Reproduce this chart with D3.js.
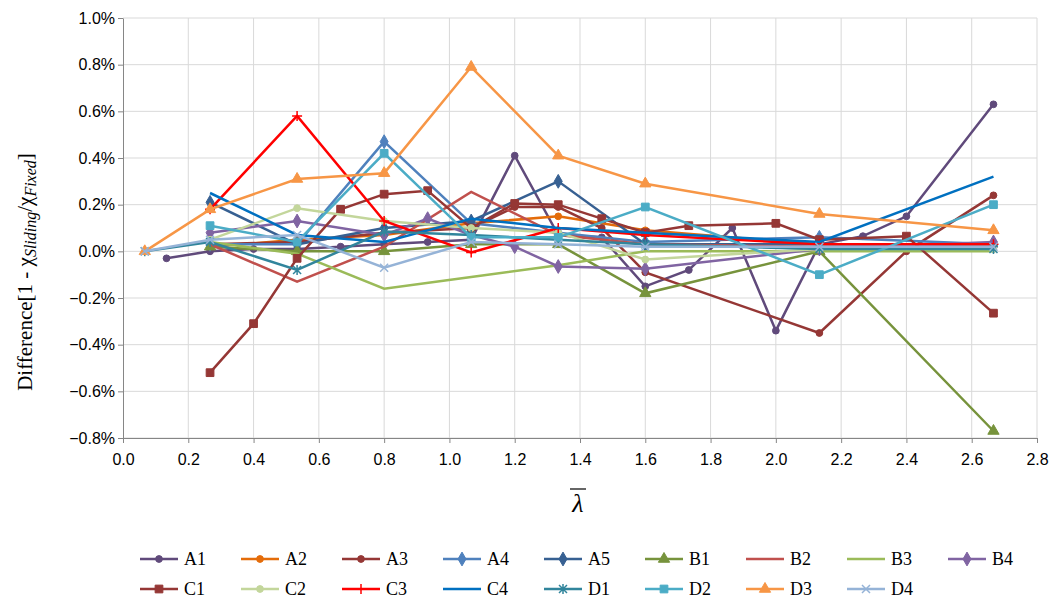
<!DOCTYPE html><html><head><meta charset="utf-8"><script src="https://cdn.jsdelivr.net/npm/d3@7"></script>
<style>body{margin:0;background:#fff}</style></head><body><svg id="c" width="1055" height="603"></svg>
<script>
const X=i=>i/7.5;
const names=["A1","A2","A3","A4","A5","B1","B2","B3","B4","C1","C2","C3","C4","D1","D2","D3","D4"];
const colors=["#604A7B","#E46C0A","#953735","#4F81BD","#376092","#77933C","#C0504D","#9BBB59","#8064A2","#953735","#C3D69B","#FF0000","#0070C0","#31859C","#4BACC6","#F79646","#95B3D7"];
const markers=["circle","circle","circle","diamond","diamond","triangle","none","none","diamond","square","circle","plus","none","star","square","triangle","x"];
const A1=[[1,-0.03],[2,0.0],[3,0.01],[4,0.01],[5,0.02],[6,0.03],[7,0.04],[8,0.05],[9,0.41],[10,0.07],[11,0.06],[12,-0.15],[13,-0.08],[14,0.10],[15,-0.34],[16,0.03],[17,0.065],[18,0.15],[20,0.63]];
const A2=[[2,0.02],[4,0.05],[6,0.07],[8,0.12],[10,0.15],[12,0.09],[16,0.03],[20,0.02]];
const A3=[[2,0.03],[4,0.04],[6,0.08],[8,0.10],[9,0.19],[10,0.19],[11,0.10],[12,-0.09],[16,-0.35],[18,0.0],[20,0.24]];
const A4=[[2,0.03],[4,0.03],[6,0.47],[8,0.12],[10,0.08],[12,0.04],[16,0.06],[20,0.03]];
const A5=[[2,0.21],[4,0.03],[6,0.10],[8,0.13],[10,0.30],[12,0.03],[16,0.03],[20,0.02]];
const B1=[[2,0.02],[4,0.0],[6,0.0],[8,0.03],[10,0.03],[12,-0.18],[16,0.0],[20,-0.77]];
const B2=[[2,0.03],[4,-0.13],[6,0.02],[8,0.255],[10,0.07],[12,0.03],[16,0.02],[20,0.02]];
const B3=[[2,0.04],[4,-0.01],[6,-0.16],[8,-0.11],[10,-0.06],[12,0.0],[16,0.0],[20,0.0]];
const B4=[[2,0.08],[4,0.13],[6,0.07],[7,0.14],[8,0.07],[9,0.02],[10,-0.065],[12,-0.075],[16,0.01],[20,0.04]];
const C1=[[2,-0.52],[3,-0.31],[4,-0.03],[5,0.18],[6,0.245],[7,0.26],[8,0.10],[9,0.205],[10,0.20],[11,0.14],[12,0.08],[13,0.11],[15,0.12],[16,0.05],[18,0.065],[20,-0.265]];
const C2=[[2,0.05],[4,0.185],[6,0.13],[8,0.10],[10,0.08],[12,-0.035],[16,0.01],[20,0.01]];
const C3=[[2,0.18],[4,0.58],[6,0.13],[8,-0.005],[10,0.10],[12,0.07],[16,0.03],[20,0.03]];
const C4=[[2,0.25],[4,0.07],[6,0.04],[8,0.14],[10,0.10],[12,0.08],[16,0.04],[20,0.32]];
const D1=[[0.5,0.0],[2,0.04],[4,-0.08],[6,0.085],[8,0.07],[10,0.05],[12,0.03],[16,0.01],[20,0.01]];
const D2=[[2,0.11],[4,0.04],[6,0.42],[8,0.06],[10,0.06],[12,0.19],[16,-0.10],[20,0.20]];
const D3=[[0.5,0.0],[2,0.18],[4,0.31],[6,0.335],[8,0.79],[10,0.41],[12,0.29],[16,0.16],[20,0.09]];
const D4=[[0.5,0.0],[2,0.05],[4,0.07],[6,-0.07],[8,0.04],[10,0.03],[12,0.02],[16,0.02],[20,0.02]];
const data=[A1,A2,A3,A4,A5,B1,B2,B3,B4,C1,C2,C3,C4,D1,D2,D3,D4];
const xTicks=d3.range(0,2.81,0.2), yTicks=d3.range(-0.8,1.01,0.2);

const svg=d3.select("#c");
const x=d3.scaleLinear().domain([0,2.8]).range([123,1037]);
const y=d3.scaleLinear().domain([-0.8,1.0]).range([438,18]);
svg.append("g").selectAll("line").data(xTicks.slice(1)).join("line").attr("x1",d=>x(d)).attr("x2",d=>x(d)).attr("y1",18).attr("y2",438).attr("stroke","#d9d9d9");
svg.append("g").selectAll("line").data(yTicks).join("line").attr("x1",123).attr("x2",1037).attr("y1",d=>y(d)).attr("y2",d=>y(d)).attr("stroke","#d9d9d9");
const gx=svg.append("g").attr("transform","translate(0,438)").call(d3.axisBottom(x).tickValues(xTicks).tickFormat(d3.format(".1f")).tickSize(5).tickSizeOuter(0));
const gy=svg.append("g").attr("transform","translate(123,0)").call(d3.axisLeft(y).tickValues(yTicks).tickFormat(d=>d3.format(".1f")(Math.abs(d)<1e-9?0:d)+"%").tickSize(5).tickSizeOuter(0));
[gx,gy].forEach(g=>{g.selectAll("path,line").attr("stroke","#868686");g.selectAll("text").attr("font-family","Liberation Sans, Arial").attr("font-size",16).attr("fill","#000");});
gx.selectAll("text").attr("dy","1.2em");

function marker(g,type,c,cx,cy){
  const sym={circle:d3.symbolCircle,diamond:d3.symbolDiamond,triangle:d3.symbolTriangle,square:d3.symbolSquare}[type];
  if(sym){g.append("path").attr("d",d3.symbol().type(sym).size(type=="square"?60:type=="circle"?36:55)()).attr("transform",`translate(${cx},${cy})`).attr("fill",c).attr("stroke",c);}
  else if(type=="plus"){g.append("path").attr("d",`M${cx-5},${cy}h10M${cx},${cy-5}v10`).attr("stroke",c).attr("stroke-width",1.5);}
  else if(type=="x"){g.append("path").attr("d",`M${cx-4},${cy-4}l8,8M${cx-4},${cy+4}l8,-8`).attr("stroke",c).attr("stroke-width",1.5);}
  else if(type=="star"){g.append("path").attr("d",`M${cx-4},${cy-4}l8,8M${cx-4},${cy+4}l8,-8M${cx},${cy-5}v10`).attr("stroke",c).attr("stroke-width",1.5);}
}
const line=d3.line().x(d=>x(X(d[0]))).y(d=>y(d[1]));
data.forEach((s,i)=>{
  const g=svg.append("g");
  g.append("path").attr("d",line(s)).attr("fill","none").attr("stroke",colors[i]).attr("stroke-width",2.5);
  s.forEach(d=>marker(g,markers[i],colors[i],x(X(d[0])),y(d[1])));
});
const yt=svg.append("text").attr("transform","translate(32,272) rotate(-90)").attr("text-anchor","middle").attr("font-family","Liberation Serif, Times New Roman").attr("font-size",21);
yt.append("tspan").text("Difference[1 - χ");
yt.append("tspan").attr("font-style","italic").attr("font-size",16).attr("dy",4).text("Sliding");
yt.append("tspan").attr("dy",-4).text("/χ");
yt.append("tspan").attr("font-style","italic").attr("font-size",16).attr("dy",4).text("Fixed");
yt.append("tspan").attr("dy",-4).text("]");
svg.append("text").attr("x",578).attr("y",512).attr("text-anchor","middle").attr("font-family","Liberation Serif, Times New Roman").attr("font-style","italic").attr("font-size",26).text("λ");
svg.append("line").attr("x1",570).attr("x2",586).attr("y1",489).attr("y2",489).attr("stroke","#000").attr("stroke-width",1.2);
names.forEach((n,i)=>{
  const r=Math.floor(i/9), c=i%9;
  const lx=140+c*101, ly=559+r*30;
  const g=svg.append("g");
  g.append("line").attr("x1",lx).attr("x2",lx+38).attr("y1",ly).attr("y2",ly).attr("stroke",colors[i]).attr("stroke-width",2.5);
  marker(g,markers[i],colors[i],lx+19,ly);
  g.append("text").attr("x",lx+44).attr("y",ly+6).attr("font-family","Liberation Serif, Times New Roman").attr("font-size",18).text(n);
});
</script></body></html>
